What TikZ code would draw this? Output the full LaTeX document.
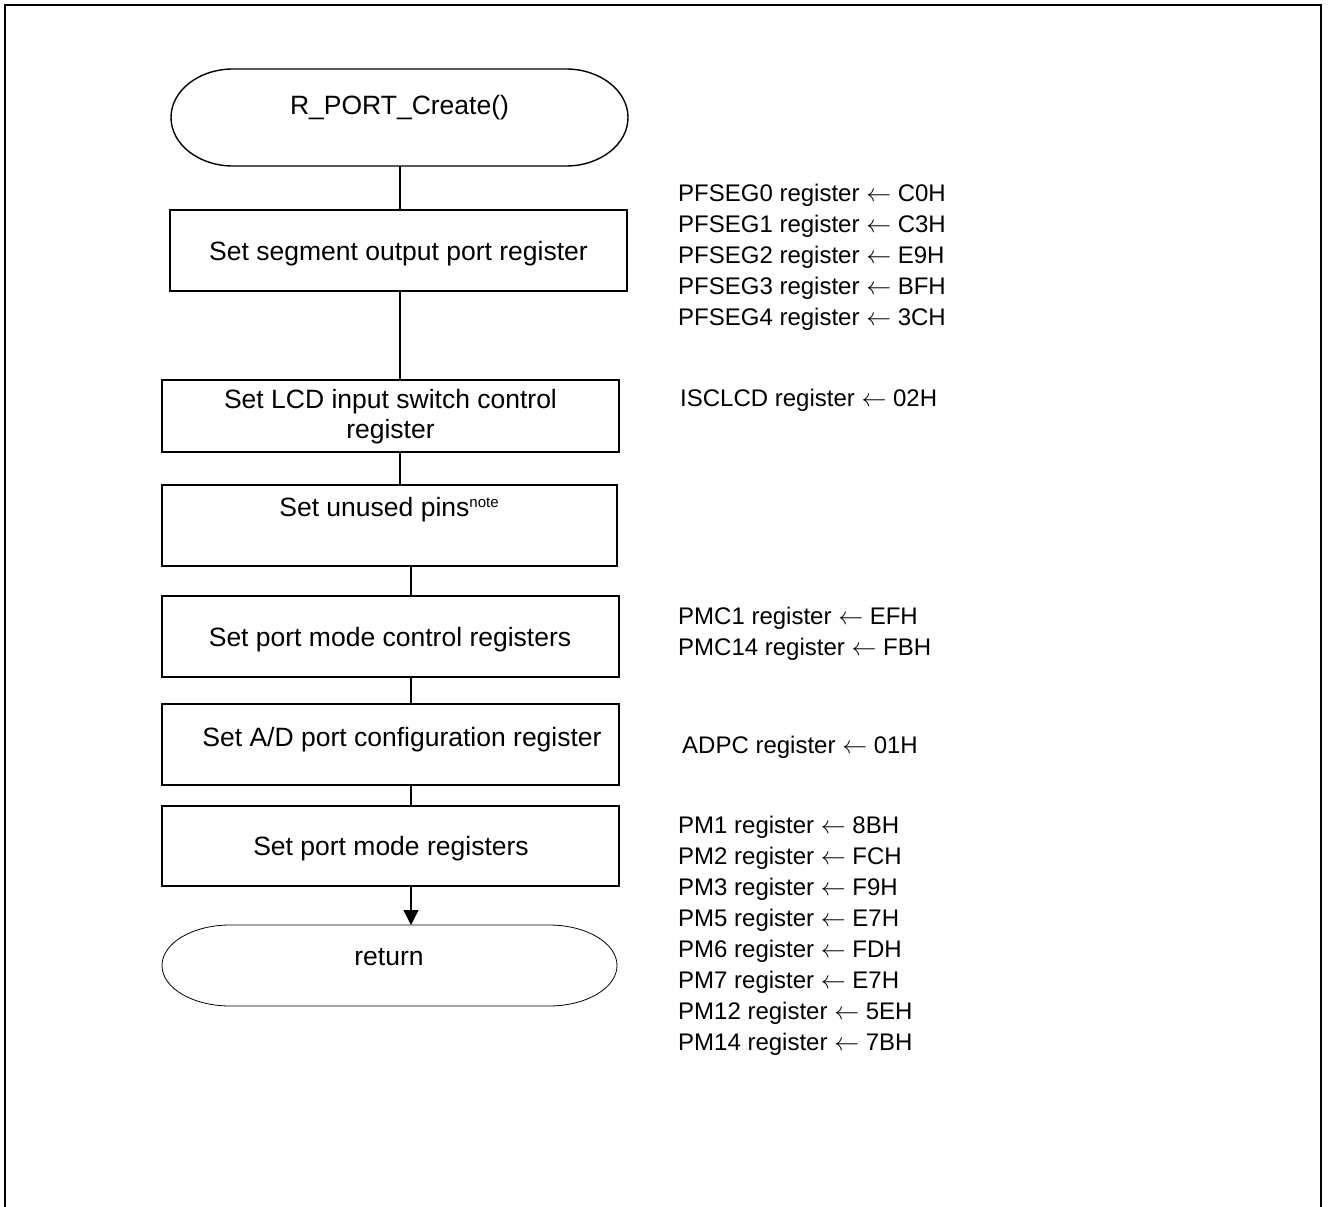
\documentclass[tikz,border=0pt]{standalone}
\usepackage{fontspec}
\setmainfont{Liberation Sans}
\usetikzlibrary{arrows.meta}
\newcommand{\larr}{\ensuremath{\leftarrow}}
\begin{document}
\begin{tikzpicture}[x=1pt,y=-1pt,
  box/.style={draw,line width=1.4pt,inner sep=0pt,outer sep=0pt,minimum width=457pt,minimum height=81pt},
  term/.style={inner sep=0pt,outer sep=0pt,minimum width=457pt,minimum height=97pt},
  btxt/.style={inner sep=0pt,anchor=base,font=\fontsize{26.5}{30}\selectfont},
  rtxt/.style={inner sep=0pt,anchor=base west,font=\fontsize{24}{31}\selectfont},
  conn/.style={line width=1.4pt},
  arr/.style={line width=1.4pt,-{Triangle[length=15pt,width=15pt]}}]
\useasboundingbox (0,0) rectangle (1328,1207);
% frame (open at the bottom)
\draw[line width=1.6pt] (5,1207) -- (5,5) -- (1321,5) -- (1321,1207);

% terminals and boxes
\node[term] (top) at (399.5,117.5) {};
\draw[line width=1.4pt] ([xshift=62pt]top.north west) -- ([xshift=-62pt]top.north east)
  arc[start angle=-90,end angle=90,x radius=62,y radius=48.5]
  -- ([xshift=62pt]top.south west)
  arc[start angle=90,end angle=270,x radius=62,y radius=48.5] -- cycle;
\node[box] (b1) at (398.5,250.5) {};
\node[box,minimum height=72pt] (b2) at (390.5,416) {};
\node[box,minimum width=455pt] (b3) at (389.5,525.5) {};
\node[box] (b4) at (390.5,636.5) {};
\node[box] (b5) at (390.5,744.5) {};
\node[box,minimum height=80pt] (b6) at (390.5,846) {};
\node[term,minimum width=455pt,minimum height=81pt] (ret) at (389.5,965.5) {};
\draw[line width=0.8pt] ([xshift=68pt]ret.north west) -- ([xshift=-68pt]ret.north east)
  arc[start angle=-90,end angle=90,x radius=68,y radius=40.5]
  -- ([xshift=68pt]ret.south west)
  arc[start angle=90,end angle=270,x radius=68,y radius=40.5] -- cycle;

% connectors
\coordinate (lxA) at (400,0);
\coordinate (lxB) at (411,0);
\draw[conn] (top.south -| lxA) -- (b1.north -| lxA);
\draw[conn] (b1.south -| lxA) -- (b2.north -| lxA);
\draw[conn] (b2.south -| lxA) -- (b3.north -| lxA);
\draw[conn] (b3.south -| lxB) -- (b4.north -| lxB);
\draw[conn] (b4.south -| lxB) -- (b5.north -| lxB);
\draw[conn] (b5.south -| lxB) -- (b6.north -| lxB);
\draw[arr] (b6.south -| lxB) -- (ret.north -| lxB);

% texts in the flowchart
\node[btxt] (t0) at (399.5,114) {R\_PORT\_Create()};
\node[btxt] (t1) at (398.5,260) {Set segment output port register};
\node[btxt,anchor=center,align=center] (t2) at (390.5,416.6) {Set LCD input switch control\\register};
\node[btxt] (t3) at (389,516) {Set unused pins\raisebox{8.5pt}{\fontsize{15}{15}\selectfont note}};
\node[btxt] (t4) at (390,646) {Set port mode control registers};
\node[btxt] (t5) at (402,746) {Set A/D port configuration register};
\node[btxt] (t6) at (391,855) {Set port mode registers};
\node[btxt] (t7) at (389,965) {return};

% register settings
\foreach \t [count=\i from 0] in {PFSEG0 register \larr{} C0H,PFSEG1 register \larr{} C3H,PFSEG2 register \larr{} E9H,PFSEG3 register \larr{} BFH,PFSEG4 register \larr{} 3CH}
  \node[rtxt] (pf\i) at (678,201+31*\i) {\t};
\node[rtxt] (isc) at (680,406.6) {ISCLCD register \larr{} 02H};
\node[rtxt] (pmc1) at (678,624.6) {PMC1 register \larr{} EFH};
\node[rtxt] (pmc14) at (678,655.6) {PMC14 register \larr{} FBH};
\node[rtxt] (adpc) at (682,753.6) {ADPC register \larr{} 01H};
\foreach \t [count=\i from 0] in {PM1 register \larr{} 8BH,PM2 register \larr{} FCH,PM3 register \larr{} F9H,PM5 register \larr{} E7H,PM6 register \larr{} FDH,PM7 register \larr{} E7H,PM12 register \larr{} 5EH,PM14 register \larr{} 7BH}
  \node[rtxt] (pm\i) at (678,833.6+31*\i) {\t};
\end{tikzpicture}
\end{document}
